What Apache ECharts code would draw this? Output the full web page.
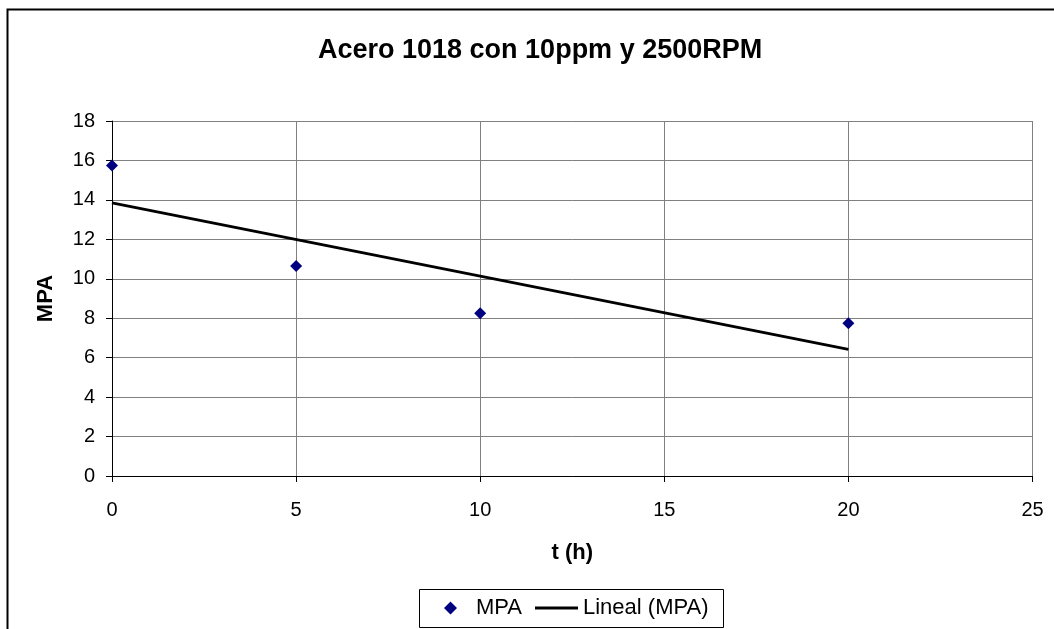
<!DOCTYPE html>
<html>
<head>
<meta charset="utf-8">
<script src="https://cdn.jsdelivr.net/npm/echarts@6/dist/echarts.min.js"></script>
<style>
  html, body { margin: 0; padding: 0; background: #fff; }
  #chart { width: 1054px; height: 629px; }
</style>
</head>
<body>
<div id="chart"></div>
<script>
// Measured stress (MPA) over time t (h)
const tHours = [0, 5, 10, 20];
const mpaValues = [15.75, 10.65, 8.25, 7.75];
// Linear trend line end points (t, MPA)
const trendT = [0, 20];
const trendMpa = [13.85, 6.42];

const xTicks = { min: 0, max: 25, interval: 5 };
const yTicks = { min: 0, max: 18, interval: 2 };

const FONT = '"Liberation Sans", Arial, sans-serif';

const chart = echarts.init(document.getElementById('chart'), null, { renderer: 'canvas' });

const legendText = { fontFamily: FONT, fontSize: 22, color: '#000' };

const option = {
  backgroundColor: '#ffffff',
  animation: false,
  textStyle: { fontFamily: FONT, color: '#000' },
  title: {
    text: 'Acero 1018 con 10ppm y 2500RPM',
    left: 313,
    top: 32,
    textStyle: { fontFamily: FONT, fontSize: 27, fontWeight: 'bold', color: '#000' }
  },
  graphic: [
    {
      // outer chart frame
      type: 'rect',
      shape: { x: 7.5, y: 9.5, width: 1100, height: 700 },
      style: { fill: 'none', stroke: '#000', lineWidth: 2 },
      silent: true
    },
    {
      // legend frame
      type: 'rect',
      shape: { x: 419.5, y: 589.5, width: 304, height: 38 },
      style: { fill: '#fff', stroke: '#000', lineWidth: 1 },
      silent: true,
      z: 0
    }
  ],
  grid: { left: 112, right: 21.5, top: 121, bottom: 153, containLabel: false },
  xAxis: {
    type: 'value',
    min: xTicks.min, max: xTicks.max, interval: xTicks.interval,
    name: 't (h)',
    nameLocation: 'middle',
    nameGap: 66,
    nameTextStyle: { fontFamily: FONT, fontSize: 22, fontWeight: 'bold', color: '#000' },
    axisLine: { show: true, onZero: false, lineStyle: { color: '#000', width: 1 } },
    axisTick: { show: true, inside: false, length: 6, lineStyle: { color: '#000' } },
    axisLabel: { margin: 24, fontFamily: FONT, fontSize: 20, color: '#000' },
    splitLine: { show: true, lineStyle: { color: '#808080', width: 1 } }
  },
  yAxis: {
    type: 'value',
    min: yTicks.min, max: yTicks.max, interval: yTicks.interval,
    name: 'MPA',
    nameLocation: 'middle',
    nameGap: 55,
    nameRotate: 90,
    nameTextStyle: { fontFamily: FONT, fontSize: 22, fontWeight: 'bold', color: '#000' },
    axisLine: { show: true, onZero: false, lineStyle: { color: '#000', width: 1 } },
    axisTick: { show: true, inside: false, length: 6, lineStyle: { color: '#000' } },
    axisLabel: { margin: 17, fontFamily: FONT, fontSize: 20, color: '#000' },
    splitLine: { show: true, lineStyle: { color: '#808080', width: 1 } }
  },
  legend: [
    {
      left: 444,
      top: 597,
      padding: 0,
      itemWidth: 27,
      itemHeight: 13,
      textStyle: legendText,
      data: [{ name: 'MPA', icon: 'path://M0,6.5 L6.5,0 L13,6.5 L6.5,13 Z M13,6.5 L27,6.5' }]
    },
    {
      left: 535,
      top: 597,
      padding: 0,
      itemWidth: 43,
      itemHeight: 3,
      textStyle: legendText,
      data: [{ name: 'Lineal (MPA)', icon: 'rect' }]
    }
  ],
  series: [
    {
      name: 'MPA',
      type: 'scatter',
      symbol: 'diamond',
      symbolSize: 12,
      itemStyle: { color: '#000080', opacity: 1 },
      data: tHours.map((t, i) => [t, mpaValues[i]]),
      z: 5
    },
    {
      name: 'Lineal (MPA)',
      type: 'line',
      symbol: 'none',
      lineStyle: { color: '#000', width: 3 },
      itemStyle: { color: '#000' },
      data: trendT.map((t, i) => [t, trendMpa[i]]),
      z: 4
    }
  ]
};

chart.setOption(option);
</script>
</body>
</html>
